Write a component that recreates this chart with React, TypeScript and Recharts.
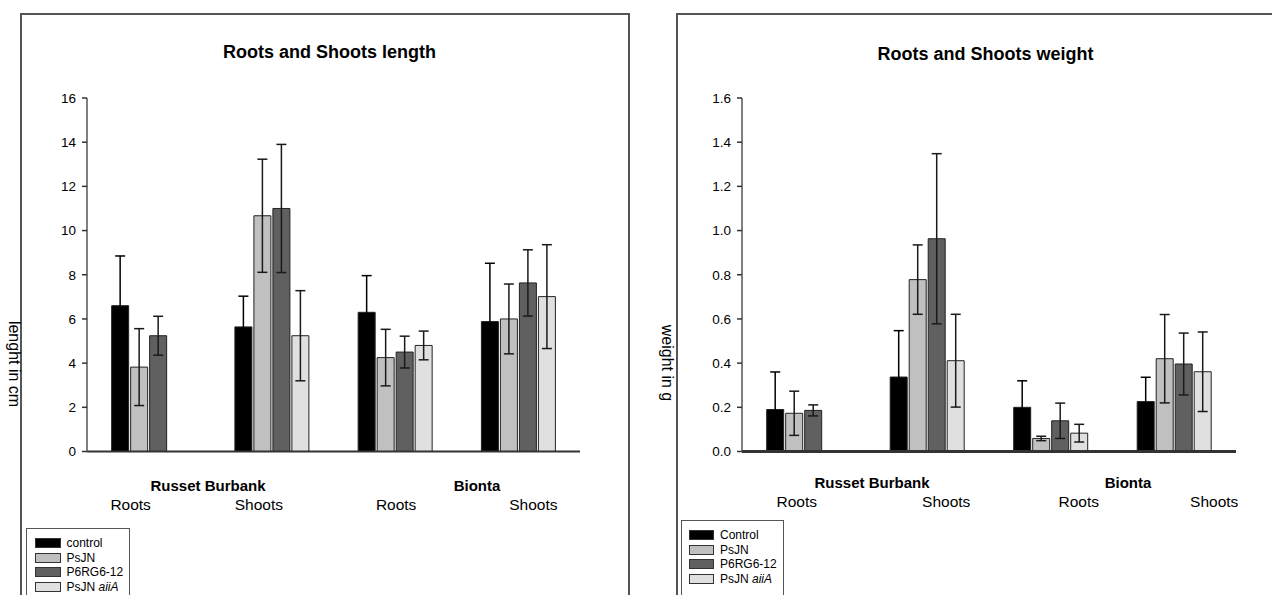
import React from 'react';
import { BarChart, Bar, XAxis, YAxis, ErrorBar, Legend } from 'recharts';

// ---------- data ----------
const parts = ['Roots', 'Shoots', 'Roots', 'Shoots'];
const varieties = ['Russet Burbank', 'Bionta'];

const lengthSeriesBase = ['control', 'PsJN', 'P6RG6-12', 'PsJN'];
const weightSeriesBase = ['Control', 'PsJN', 'P6RG6-12', 'PsJN'];
const seriesItalic = ['', '', '', 'aiiA'];

// Roots and Shoots length (cm)
const lengthControl = [6.6, 5.64, 6.3, 5.88];
const lengthControlErr = [2.25, 1.39, 1.66, 2.64];
const lengthPsJN = [3.82, 10.67, 4.25, 6.0];
const lengthPsJNErr = [1.74, 2.56, 1.28, 1.58];
const lengthP6 = [5.24, 11.0, 4.5, 7.63];
const lengthP6Err = [0.88, 2.9, 0.72, 1.5];
const lengthAiiA = [null, 5.24, 4.8, 7.01];
const lengthAiiAErr = [null, 2.04, 0.65, 2.35];

// Roots and Shoots weight (g)
const weightControl = [0.19, 0.337, 0.2, 0.226];
const weightControlErr = [0.17, 0.21, 0.12, 0.11];
const weightPsJN = [0.173, 0.778, 0.059, 0.42];
const weightPsJNErr = [0.1, 0.157, 0.01, 0.2];
const weightP6 = [0.186, 0.963, 0.139, 0.396];
const weightP6Err = [0.025, 0.385, 0.08, 0.14];
const weightAiiA = [null, 0.411, 0.083, 0.361];
const weightAiiAErr = [null, 0.21, 0.04, 0.18];

const lengthTicks = [0, 2, 4, 6, 8, 10, 12, 14, 16];
const weightTicks = [0, 0.2, 0.4, 0.6, 0.8, 1.0, 1.2, 1.4, 1.6];

const seriesColors = ['#000000', '#c0c0c0', '#606060', '#e0e0e0'];

// ---------- helpers ----------
type Num = number | null;

function buildRows(values: Num[][], errs: Num[][]) {
  return parts.map((p, i) => {
    const row: Record<string, any> = { part: p, idx: i };
    values.forEach((v, s) => {
      row['s' + s] = v[i];
      row['e' + s] = errs[s][i];
    });
    return row;
  });
}

const lengthRows = buildRows(
  [lengthControl, lengthPsJN, lengthP6, lengthAiiA],
  [lengthControlErr, lengthPsJNErr, lengthP6Err, lengthAiiAErr]
);
const weightRows = buildRows(
  [weightControl, weightPsJN, weightP6, weightAiiA],
  [weightControlErr, weightPsJNErr, weightP6Err, weightAiiAErr]
);

const FONT = '"Liberation Sans", Arial, Helvetica, sans-serif';

function CategoryTick(props: any) {
  const { x, y, index, payload, partDx, partDy, varietyDx, varietyDy } = props;
  const vi = index / 2;
  return (
    <g>
      <text
        x={x + partDx[index]}
        y={y + partDy}
        textAnchor="middle"
        dominantBaseline="central"
        fontSize={15.5}
        fill="#000"
        fontFamily={FONT}
      >
        {payload.value}
      </text>
      {index % 2 === 0 && (
        <text
          x={x + varietyDx[vi]}
          y={y + varietyDy}
          textAnchor="middle"
          dominantBaseline="central"
          fontSize={15}
          fontWeight="bold"
          fill="#000"
          fontFamily={FONT}
        >
          {varieties[vi]}
        </text>
      )}
    </g>
  );
}

function LegendBox(props: any) {
  const { bases, swatchLeft, boxWidth } = props;
  return (
    <div
      style={{
        boxSizing: 'border-box',
        width: boxWidth,
        height: 100,
        border: '1.5px solid #555',
        background: '#fff',
        paddingTop: 7,
        fontFamily: FONT,
        fontSize: 12,
        color: '#000',
      }}
    >
      {bases.map((b: string, i: number) => (
        <div key={i} style={{ display: 'flex', alignItems: 'center', height: 14.5 }}>
          <div
            style={{
              boxSizing: 'border-box',
              marginLeft: swatchLeft,
              width: 25.5,
              height: 10,
              background: seriesColors[i],
              border: '1px solid #333',
            }}
          />
          <span style={{ marginLeft: 6, whiteSpace: 'nowrap' }}>
            {b}
            {seriesItalic[i] ? (
              <>
                {' '}
                <i>{seriesItalic[i]}</i>
              </>
            ) : null}
          </span>
        </div>
      ))}
    </div>
  );
}

function YLabel(props: any) {
  const { viewBox, text, cx, cy } = props;
  const x = (viewBox?.x ?? 0) + cx;
  const y = cy;
  return (
    <text
      x={x}
      y={y}
      transform={`rotate(90 ${x} ${y})`}
      textAnchor="middle"
      dominantBaseline="central"
      fontSize={16}
      fill="#000"
      fontFamily={FONT}
    >
      {text}
    </text>
  );
}

type PanelProps = {
  left: number;
  width: number;
  data: any[];
  bases: string[];
  ticks: number[];
  fmt: (v: number) => string;
  yAxisWidth: number;
  marginRight: number;
  yLabel: string;
  yLabelX: number;
  yLabelY: number;
  partDx: number[];
  partDy: number;
  varietyDx: number[];
  varietyDy: number;
  legendLeft: number;
  legendTop: number;
  legendWidth: number;
  swatchLeft: number;
  zeroWidth: number;
};

function Panel(p: PanelProps) {
  const domainMax = p.ticks[p.ticks.length - 1];
  return (
    <div style={{ position: 'absolute', left: p.left, top: 0 }}>
      <BarChart
        width={p.width}
        height={595}
        data={p.data}
        margin={{ top: 98, right: p.marginRight, bottom: 0, left: 0 }}
        barCategoryGap="20%"
        barGap={2}
        style={{ fontFamily: FONT }}
      >
        <XAxis
          dataKey="part"
          height={143.5}
          tickLine={false}
          tickSize={0}
          tickMargin={0}
          interval={0}
          axisLine={{ stroke: '#333', strokeWidth: p.zeroWidth }}
          tick={(tp: any) => (
            <CategoryTick
              {...tp}
              partDx={p.partDx}
              partDy={p.partDy}
              varietyDx={p.varietyDx}
              varietyDy={p.varietyDy}
            />
          )}
        />
        <XAxis
          xAxisId="top"
          dataKey="part"
          orientation="top"
          height={0}
          tick={false}
          tickLine={false}
          axisLine={{ stroke: '#666', strokeWidth: 1.5 }}
        />
        <YAxis
          width={p.yAxisWidth}
          domain={[0, domainMax]}
          ticks={p.ticks}
          interval={0}
          tickFormatter={p.fmt}
          tickSize={5}
          tickMargin={6}
          tick={{ fill: '#000', fontSize: 13.5, fontFamily: FONT }}
          tickLine={{ stroke: '#333', strokeWidth: 1.5 }}
          axisLine={{ stroke: '#555', strokeWidth: 1.5 }}
          label={(lp: any) => (
            <YLabel {...lp} text={p.yLabel} cx={p.yLabelX} cy={p.yLabelY} />
          )}
        />
        <YAxis
          yAxisId="r"
          orientation="right"
          width={0}
          domain={[0, domainMax]}
          tick={false}
          tickLine={false}
          axisLine={{ stroke: '#666', strokeWidth: 1.5 }}
        />
        {[0, 1, 2, 3].map((s) => (
          <Bar
            key={s}
            dataKey={'s' + s}
            name={p.bases[s] + (seriesItalic[s] ? ' ' + seriesItalic[s] : '')}
            fill={seriesColors[s]}
            stroke="#222"
            strokeWidth={1}
            isAnimationActive={false}
          >
            <ErrorBar
              dataKey={'e' + s}
              width={5}
              stroke={s === 0 ? '#000' : '#1a1a1a'}
              strokeWidth={1.5}
              direction="y"
              isAnimationActive={false}
            />
          </Bar>
        ))}
        <Legend
          layout="vertical"
          align="center"
          verticalAlign="middle"
          wrapperStyle={{
            left: p.legendLeft,
            top: p.legendTop,
            width: p.legendWidth,
            height: 100,
          }}
          content={() => (
            <LegendBox bases={p.bases} swatchLeft={p.swatchLeft} boxWidth={p.legendWidth} />
          )}
        />
      </BarChart>
    </div>
  );
}

const titleStyle: React.CSSProperties = {
  position: 'absolute',
  width: 400,
  textAlign: 'center',
  fontFamily: FONT,
  fontWeight: 'bold',
  fontSize: 18,
  lineHeight: '20px',
  color: '#000',
  whiteSpace: 'nowrap',
};

export default function App() {
  return (
    <div
      style={{
        position: 'absolute',
        left: 0,
        top: 0,
        width: 1272,
        height: 595,
        overflow: 'hidden',
        background: '#fff',
        fontFamily: FONT,
      }}
    >
      {/* panel frames */}
      <div
        style={{
          position: 'absolute',
          left: 20,
          top: 13,
          width: 606,
          height: 700,
          border: '2px solid #555',
        }}
      />
      <div
        style={{
          position: 'absolute',
          left: 676,
          top: 13,
          width: 700,
          height: 700,
          border: '2px solid #555',
        }}
      />
      <div style={{ ...titleStyle, left: 329.5 - 200, top: 42 }}>Roots and Shoots length</div>
      <div style={{ ...titleStyle, left: 985.5 - 200, top: 43.5 }}>Roots and Shoots weight</div>

      <Panel
        left={0}
        width={640}
        data={lengthRows}
        bases={lengthSeriesBase}
        ticks={lengthTicks}
        fmt={(v) => String(v)}
        yAxisWidth={87}
        marginRight={60}
        yLabel="lenght in cm"
        yLabelX={14}
        yLabelY={364}
        partDx={[-18, -13, 1, 15]}
        partDy={52.5}
        varietyDx={[59.4, 81.9]}
        varietyDy={33.5}
        legendLeft={26}
        legendTop={528}
        legendWidth={104}
        swatchLeft={8}
        zeroWidth={2}
      />
      <Panel
        left={640}
        width={632}
        data={weightRows}
        bases={weightSeriesBase}
        ticks={weightTicks}
        fmt={(v) => v.toFixed(1)}
        yAxisWidth={102}
        marginRight={36}
        yLabel="weight in g"
        yLabelX={27.5}
        yLabelY={363}
        partDx={[-7, 19, 28, 40]}
        partDy={50}
        varietyDx={[68.25, 77.25]}
        varietyDy={31}
        legendLeft={41}
        legendTop={520}
        legendWidth={103}
        swatchLeft={6.5}
        zeroWidth={3}
      />
    </div>
  );
}
